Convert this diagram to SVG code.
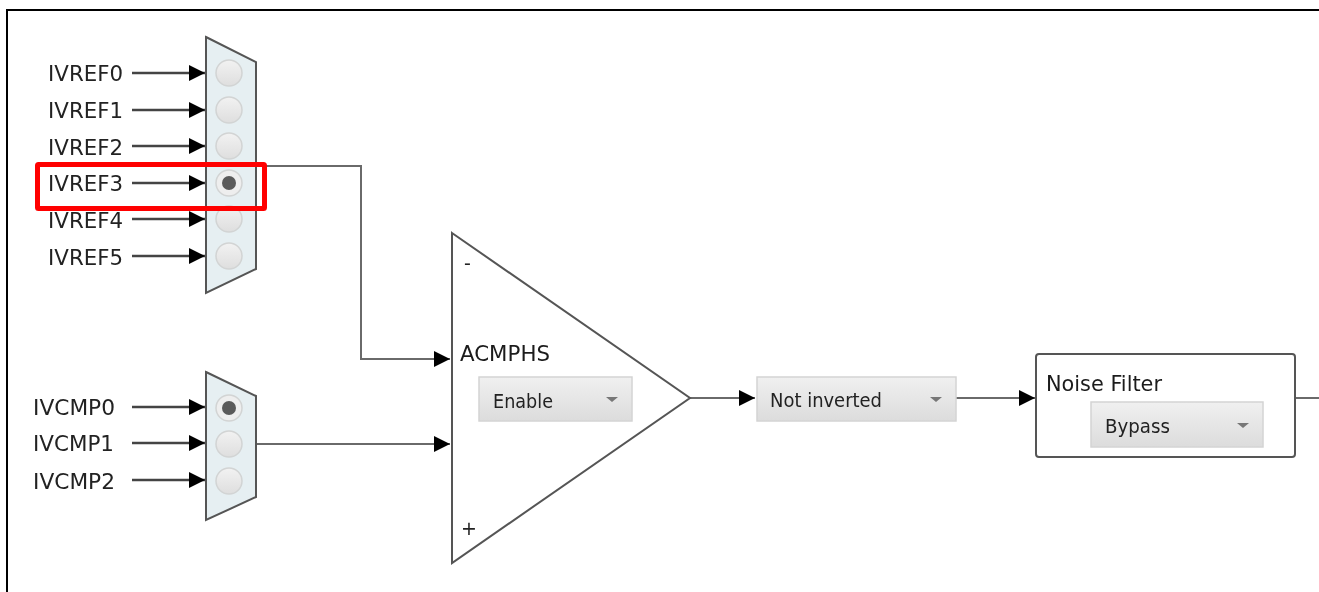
<svg xmlns="http://www.w3.org/2000/svg" width="1319" height="592" viewBox="0 0 1319 592">
<defs>
<marker id="ah" markerUnits="userSpaceOnUse" markerWidth="17" markerHeight="18" refX="16" refY="9" orient="auto"><path d="M0 1L16 9L0 17Z" fill="#000"/></marker>
<linearGradient id="cb" x1="0" y1="0" x2="0" y2="1"><stop offset="0" stop-color="#f0f0f0"/><stop offset="1" stop-color="#dcdcdc"/></linearGradient>
<linearGradient id="rb" x1="0" y1="0" x2="0" y2="1"><stop offset="0" stop-color="#f2f2f2"/><stop offset="1" stop-color="#dedede"/></linearGradient>
<filter id="soft" x="-5%" y="-20%" width="110%" height="140%"><feGaussianBlur stdDeviation="0.5"/></filter>
<g id="radio"><circle r="13" fill="url(#rb)" stroke="#d2d4d4" stroke-width="1.5"/></g>
<g id="radioOn"><circle r="13" fill="#eeeeee" stroke="#d2d4d4" stroke-width="1.5"/><circle r="7" fill="#5a5a5a"/></g>
</defs>
<style>
text{font-family:"DejaVu Sans","Liberation Sans",sans-serif;fill:#222;filter:url(#soft)}
.lb{font-size:21px}
.bt{font-size:19px}
.ttl{font-size:22px;fill:#1a1a1a}
.w{fill:none;stroke:#6a6a6a;stroke-width:2}
.in{fill:none;stroke:#444;stroke-width:2.5;marker-end:url(#ah)}
.out{fill:none;stroke:#6a6a6a;stroke-width:2;marker-end:url(#ah)}
.mux{fill:#e6eff2;stroke:#555;stroke-width:2}
.cb{fill:url(#cb);stroke:#d4d4d4;stroke-width:1.5}
.arr{fill:#777}
</style>
<rect x="0" y="0" width="1319" height="592" fill="#fff"/>
<path d="M7 592V10H1319" fill="none" stroke="#000" stroke-width="2"/>
<g id="connectors">
<path class="in" d="M132 73H205"/><path class="in" d="M132 110H205"/><path class="in" d="M132 146H205"/><path class="in" d="M132 183H205"/><path class="in" d="M132 219H205"/><path class="in" d="M132 256H205"/>
<path class="in" d="M132 407H205"/><path class="in" d="M132 443H205"/><path class="in" d="M132 480H205"/>
<path class="out" d="M256 166H361V359H450"/>
<path class="out" d="M256 444H450"/>
<path class="out" d="M690 398H755"/>
<path class="out" d="M956 398H1035"/>
<path class="w" d="M1295 398H1319"/>
</g>
<g id="mux-ivref">
<path class="mux" d="M206 37L256 62V269L206 293Z"/>
<use href="#radio" x="229" y="73"/><use href="#radio" x="229" y="110"/><use href="#radio" x="229" y="146"/><use href="#radioOn" x="229" y="183"/><use href="#radio" x="229" y="219"/><use href="#radio" x="229" y="256"/>
<text class="lb" x="48" y="81" textLength="75" lengthAdjust="spacingAndGlyphs">IVREF0</text><text class="lb" x="48" y="118" textLength="75" lengthAdjust="spacingAndGlyphs">IVREF1</text><text class="lb" x="48" y="155" textLength="75" lengthAdjust="spacingAndGlyphs">IVREF2</text><text class="lb" x="48" y="191" textLength="75" lengthAdjust="spacingAndGlyphs">IVREF3</text><text class="lb" x="48" y="228" textLength="75" lengthAdjust="spacingAndGlyphs">IVREF4</text><text class="lb" x="48" y="265" textLength="75" lengthAdjust="spacingAndGlyphs">IVREF5</text>
</g>
<g id="mux-ivcmp">
<path class="mux" d="M206 372L256 396V497L206 520Z"/>
<use href="#radioOn" x="229" y="408"/><use href="#radio" x="229" y="444"/><use href="#radio" x="229" y="481"/>
<text class="lb" x="33" y="415" textLength="82" lengthAdjust="spacingAndGlyphs">IVCMP0</text><text class="lb" x="33" y="451" textLength="81" lengthAdjust="spacingAndGlyphs">IVCMP1</text><text class="lb" x="33" y="489" textLength="82" lengthAdjust="spacingAndGlyphs">IVCMP2</text>
</g>
<g id="comparator">
<path d="M452 233L690 398L452 563Z" fill="#fff" stroke="#555" stroke-width="2"/>
<text x="464" y="270" class="bt">-</text>
<text x="461" y="535" class="bt">+</text>
<text class="ttl" x="460" y="361" textLength="90" lengthAdjust="spacingAndGlyphs">ACMPHS</text>
<rect class="cb" x="479" y="377" width="153" height="44"/>
<text class="bt" x="493" y="408" textLength="60" lengthAdjust="spacingAndGlyphs">Enable</text>
<path class="arr" d="M606 397H618L612 402Z"/>
</g>
<g id="invert">
<rect class="cb" x="757" y="377" width="199" height="44"/>
<text class="bt" x="770" y="407" textLength="112" lengthAdjust="spacingAndGlyphs">Not inverted</text>
<path class="arr" d="M930 397H942L936 402Z"/>
</g>
<g id="noise-filter">
<rect x="1036" y="354" width="259" height="103" rx="3" fill="#fff" stroke="#555" stroke-width="2"/>
<text class="ttl" x="1046" y="391" textLength="116" lengthAdjust="spacingAndGlyphs">Noise Filter</text>
<rect class="cb" x="1091" y="402" width="172" height="45"/>
<text class="bt" x="1105" y="433" textLength="65" lengthAdjust="spacingAndGlyphs">Bypass</text>
<path class="arr" d="M1237 423H1249L1243 428Z"/>
</g>
<g id="highlight"><rect x="37.5" y="164.5" width="227" height="44" rx="1" fill="none" stroke="#f00" stroke-width="5"/></g>
</svg>
